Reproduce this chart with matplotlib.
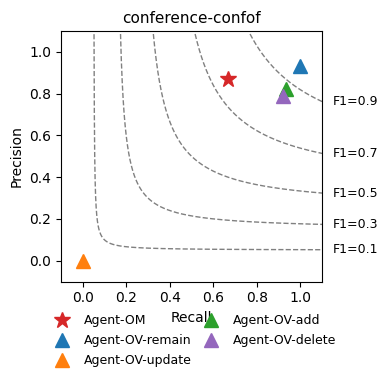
import numpy as np
import matplotlib
matplotlib.use('Agg')
import matplotlib.pyplot as plt

# results for each system
names = ['Agent-OM', 'Agent-OV-remain', 'Agent-OV-update', 'Agent-OV-add', 'Agent-OV-delete']
recall = [0.667, 1.0, 0.0, 0.933, 0.92]
precision = [0.87, 0.93, 0.0, 0.82, 0.79]
markers = ['*', '^', '^', '^', '^']
colors = ['tab:red', 'tab:blue', 'tab:orange', 'tab:green', 'tab:purple']
f1_levels = [0.1, 0.3, 0.5, 0.7, 0.9]

fig = plt.figure(figsize=(3.9, 3.81), dpi=100)
ax = fig.add_axes([0.156, 0.261, 0.67, 0.658])

# iso-F1 curves
for f in f1_levels:
    x = np.linspace(0.01, 1.1, 200000)
    y = f * x / (2 * x - f)
    ok = (y >= 0) & (y <= 1.085) & (2 * x - f > 0)
    ax.plot(x[ok], y[ok], color='gray', linestyle='--', linewidth=1)
    ax.text(1.15, f * 1.1 / (2.2 - f), 'F1={0:0.1f}'.format(f), va='center', fontsize=9, clip_on=False)

for i in range(len(names)):
    ms = 12 if markers[i] == '*' else 10
    ax.plot(recall[i], precision[i], marker=markers[i], color=colors[i], markersize=ms,
            linestyle='none', label=names[i])

ax.set_xlim(-0.1, 1.1)
ax.set_ylim(-0.1, 1.1)
ax.set_xticks([0.0, 0.2, 0.4, 0.6, 0.8, 1.0])
ax.set_yticks([0.0, 0.2, 0.4, 0.6, 0.8, 1.0])
ax.set_xlabel('Recall')
ax.set_ylabel('Precision')
ax.set_title('conference-confof', fontsize=11)
ax.legend(loc='upper center', bbox_to_anchor=(0.505, -0.11), ncol=2, frameon=False,
          fontsize=9, handletextpad=0.8, columnspacing=0.5, labelspacing=0.55, borderaxespad=0)

fig.savefig('out.png')
